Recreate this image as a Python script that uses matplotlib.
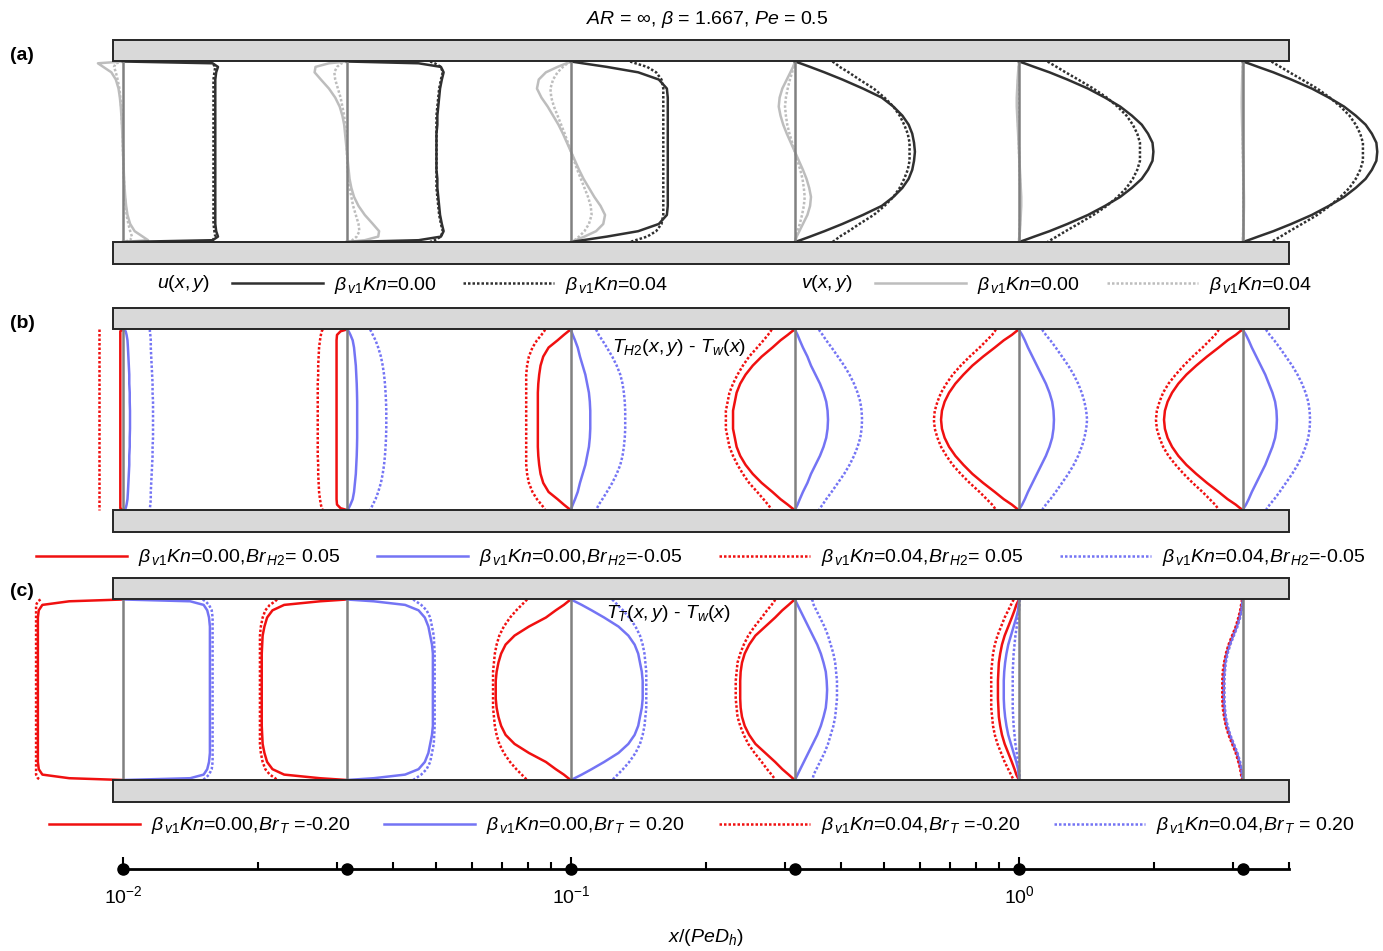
import numpy as np
import matplotlib.pyplot as plt
from matplotlib.patches import Rectangle
from matplotlib.ticker import LogLocator, NullFormatter

plt.rcParams['font.family'] = ['Liberation Sans', 'DejaVu Sans']
plt.rcParams['mathtext.fontset'] = 'custom'
plt.rcParams['mathtext.rm'] = 'Liberation Sans'
plt.rcParams['mathtext.it'] = 'Liberation Sans:italic'
plt.rcParams['mathtext.bf'] = 'Liberation Sans:bold'
plt.rcParams['font.size'] = 14

# axial stations x/(Pe Dh) where the profiles are drawn
STATIONS = [0.01, 0.0316, 0.1, 0.316, 1.0, 3.16]
TICK_VALUES = [0.01, 0.1, 1.0]
TICK_LABELS = [r'$10^{-2}$', r'$10^{-1}$', r'$10^{0}$']
WALL_X = [0.0095, 4.0]

# distance from the wall / channel height (half channel, profiles are mirrored)
D_HALF = [0.0, 0.01, 0.03, 0.06, 0.10, 0.15, 0.20, 0.25, 0.30, 0.35, 0.40, 0.45, 0.50]

# (a) streamwise velocity u, one row per station
U_KN0 = [
    [0.0, 1.00, 1.06, 1.04, 1.03, 1.03, 1.03, 1.03, 1.03, 1.03, 1.03, 1.03, 1.03],
    [0.0, 0.80, 1.05, 1.08, 1.06, 1.04, 1.03, 1.02, 1.01, 1.01, 1.00, 1.00, 1.00],
    [0.0, 0.13, 0.40, 0.75, 0.98, 1.07, 1.08, 1.08, 1.08, 1.08, 1.08, 1.08, 1.08],
    [0.0, 0.06, 0.17, 0.33, 0.53, 0.76, 0.97, 1.10, 1.20, 1.27, 1.31, 1.33, 1.34],
    [0.0, 0.06, 0.17, 0.34, 0.54, 0.77, 0.96, 1.13, 1.26, 1.37, 1.44, 1.49, 1.50],
    [0.0, 0.06, 0.17, 0.34, 0.54, 0.77, 0.96, 1.13, 1.26, 1.37, 1.44, 1.49, 1.50],
]
U_KN04 = [
    [0.97, 1.00, 1.03, 1.02, 1.01, 1.01, 1.01, 1.01, 1.01, 1.01, 1.01, 1.01, 1.01],
    [0.93, 0.98, 1.05, 1.07, 1.05, 1.03, 1.02, 1.01, 1.00, 1.00, 1.00, 1.00, 1.00],
    [0.66, 0.72, 0.85, 0.95, 1.01, 1.03, 1.03, 1.03, 1.03, 1.03, 1.03, 1.03, 1.03],
    [0.42, 0.45, 0.50, 0.60, 0.72, 0.88, 1.00, 1.10, 1.17, 1.22, 1.26, 1.28, 1.28],
    [0.32, 0.35, 0.42, 0.52, 0.66, 0.83, 0.98, 1.10, 1.20, 1.27, 1.32, 1.35, 1.35],
    [0.32, 0.35, 0.42, 0.52, 0.66, 0.83, 0.97, 1.09, 1.19, 1.26, 1.31, 1.34, 1.34],
]
# (a) transverse velocity v, top half (antisymmetric about the centreline)
V_KN0 = [
    [0.0, -0.28, -0.22, -0.13, -0.08, -0.05, -0.035, -0.025, -0.018, -0.012, -0.008, -0.004, 0.0],
    [0.0, -0.20, -0.35, -0.36, -0.29, -0.20, -0.13, -0.08, -0.05, -0.03, -0.02, -0.01, 0.0],
    [0.0, -0.05, -0.15, -0.28, -0.36, -0.38, -0.33, -0.26, -0.20, -0.14, -0.09, -0.045, 0.0],
    [0.0, -0.005, -0.02, -0.05, -0.09, -0.14, -0.17, -0.18, -0.16, -0.13, -0.09, -0.045, 0.0],
    [0.0, 0.0, -0.005, -0.01, -0.015, -0.02, -0.025, -0.025, -0.02, -0.015, -0.01, -0.005, 0.0],
    [0.0, 0.0, -0.003, -0.005, -0.008, -0.01, -0.012, -0.012, -0.01, -0.008, -0.005, -0.003, 0.0],
]
V_KN04 = [
    [0.0, -0.08, -0.10, -0.08, -0.06, -0.04, -0.03, -0.02, -0.015, -0.01, -0.006, -0.003, 0.0],
    [0.0, -0.06, -0.11, -0.14, -0.13, -0.10, -0.07, -0.05, -0.03, -0.02, -0.01, -0.005, 0.0],
    [0.0, -0.04, -0.09, -0.15, -0.20, -0.23, -0.22, -0.19, -0.15, -0.11, -0.07, -0.035, 0.0],
    [0.0, -0.005, -0.015, -0.03, -0.055, -0.08, -0.10, -0.11, -0.10, -0.085, -0.06, -0.03, 0.0],
    [0.0, 0.0, -0.003, -0.006, -0.01, -0.013, -0.015, -0.015, -0.013, -0.01, -0.007, -0.003, 0.0],
    [0.0, 0.0, -0.002, -0.003, -0.005, -0.006, -0.007, -0.007, -0.006, -0.005, -0.003, -0.002, 0.0],
]

# (b) T_H2 - T_w
TH_RED_KN0 = [
    [0.0, -0.03, -0.03, -0.03, -0.03, -0.03, -0.03, -0.03, -0.03, -0.03, -0.03, -0.03, -0.03],
    [0.0, -0.07, -0.11, -0.115, -0.115, -0.115, -0.115, -0.115, -0.115, -0.115, -0.115, -0.115, -0.115],
    [0.0, -0.03, -0.08, -0.15, -0.25, -0.31, -0.34, -0.355, -0.365, -0.37, -0.37, -0.37, -0.37],
    [0.0, -0.03, -0.08, -0.16, -0.25, -0.37, -0.47, -0.55, -0.61, -0.65, -0.67, -0.69, -0.69],
    [0.0, -0.03, -0.08, -0.17, -0.27, -0.40, -0.52, -0.62, -0.71, -0.78, -0.83, -0.86, -0.87],
    [0.0, -0.03, -0.08, -0.17, -0.27, -0.40, -0.52, -0.63, -0.72, -0.79, -0.84, -0.87, -0.88],
]
TH_BLUE_KN0 = [
    [0.0, 0.03, 0.04, 0.05, 0.055, 0.06, 0.065, 0.07, 0.07, 0.075, 0.075, 0.078, 0.078],
    [0.0, 0.02, 0.04, 0.065, 0.08, 0.09, 0.10, 0.105, 0.11, 0.113, 0.115, 0.115, 0.115],
    [0.0, 0.005, 0.02, 0.045, 0.075, 0.10, 0.13, 0.16, 0.18, 0.20, 0.21, 0.215, 0.215],
    [0.0, 0.01, 0.03, 0.055, 0.09, 0.14, 0.18, 0.23, 0.28, 0.32, 0.35, 0.365, 0.37],
    [0.0, 0.01, 0.035, 0.065, 0.10, 0.15, 0.20, 0.25, 0.30, 0.34, 0.37, 0.385, 0.39],
    [0.0, 0.01, 0.035, 0.065, 0.10, 0.15, 0.20, 0.25, 0.29, 0.33, 0.36, 0.375, 0.38],
]
TH_RED_KN04 = [
    [-0.27, -0.27, -0.27, -0.27, -0.27, -0.27, -0.27, -0.27, -0.27, -0.27, -0.27, -0.27, -0.27],
    [-0.27, -0.28, -0.29, -0.30, -0.31, -0.315, -0.32, -0.32, -0.325, -0.325, -0.325, -0.325, -0.325],
    [-0.29, -0.30, -0.33, -0.38, -0.43, -0.47, -0.49, -0.50, -0.50, -0.50, -0.50, -0.50, -0.50],
    [-0.26, -0.27, -0.30, -0.35, -0.42, -0.51, -0.58, -0.64, -0.69, -0.73, -0.75, -0.77, -0.77],
    [-0.26, -0.27, -0.30, -0.36, -0.44, -0.55, -0.65, -0.74, -0.81, -0.87, -0.91, -0.94, -0.95],
    [-0.27, -0.28, -0.31, -0.37, -0.45, -0.56, -0.66, -0.75, -0.83, -0.89, -0.93, -0.96, -0.97],
]
TH_BLUE_KN04 = [
    [0.30, 0.30, 0.305, 0.31, 0.31, 0.315, 0.32, 0.325, 0.33, 0.33, 0.335, 0.335, 0.335],
    [0.26, 0.27, 0.29, 0.32, 0.35, 0.38, 0.40, 0.415, 0.425, 0.432, 0.437, 0.44, 0.44],
    [0.28, 0.29, 0.31, 0.35, 0.40, 0.46, 0.51, 0.55, 0.575, 0.59, 0.60, 0.605, 0.605],
    [0.27, 0.28, 0.31, 0.35, 0.41, 0.48, 0.55, 0.61, 0.66, 0.70, 0.73, 0.745, 0.75],
    [0.26, 0.27, 0.30, 0.35, 0.41, 0.48, 0.55, 0.61, 0.66, 0.70, 0.73, 0.75, 0.76],
    [0.26, 0.27, 0.30, 0.35, 0.41, 0.48, 0.55, 0.61, 0.66, 0.70, 0.73, 0.745, 0.75],
]

# (c) T_T - T_w
TT_RED_KN0 = [
    [0.0, -0.60, -0.90, -0.94, -0.95, -0.95, -0.95, -0.95, -0.95, -0.95, -0.95, -0.95, -0.95],
    [0.0, -0.30, -0.70, -0.83, -0.89, -0.92, -0.94, -0.945, -0.95, -0.95, -0.95, -0.95, -0.95],
    [0.0, -0.03, -0.08, -0.17, -0.28, -0.47, -0.63, -0.73, -0.78, -0.81, -0.83, -0.84, -0.84],
    [0.0, -0.025, -0.07, -0.14, -0.22, -0.33, -0.44, -0.51, -0.56, -0.59, -0.605, -0.61, -0.61],
    [0.0, -0.01, -0.03, -0.05, -0.08, -0.12, -0.16, -0.19, -0.21, -0.225, -0.23, -0.235, -0.235],
    [0.0, -0.003, -0.01, -0.02, -0.04, -0.07, -0.11, -0.15, -0.18, -0.20, -0.21, -0.215, -0.215],
]
TT_BLUE_KN0 = [
    [0.0, 0.75, 0.90, 0.94, 0.96, 0.97, 0.97, 0.97, 0.97, 0.97, 0.97, 0.97, 0.97],
    [0.0, 0.30, 0.65, 0.80, 0.87, 0.91, 0.93, 0.95, 0.96, 0.96, 0.96, 0.96, 0.96],
    [0.0, 0.04, 0.12, 0.23, 0.37, 0.53, 0.64, 0.71, 0.75, 0.77, 0.79, 0.80, 0.80],
    [0.0, 0.01, 0.03, 0.06, 0.10, 0.15, 0.20, 0.25, 0.29, 0.32, 0.345, 0.355, 0.36],
    [0.0, 0.0, -0.005, -0.01, -0.03, -0.06, -0.09, -0.12, -0.14, -0.155, -0.165, -0.17, -0.17],
    [0.0, -0.003, -0.01, -0.02, -0.04, -0.07, -0.11, -0.15, -0.18, -0.20, -0.21, -0.22, -0.22],
]
TT_RED_KN04 = [
    [-0.92, -0.95, -0.97, -0.97, -0.97, -0.97, -0.97, -0.97, -0.97, -0.97, -0.97, -0.97, -0.97],
    [-0.78, -0.80, -0.86, -0.91, -0.94, -0.96, -0.97, -0.97, -0.97, -0.97, -0.97, -0.97, -0.97],
    [-0.49, -0.51, -0.55, -0.61, -0.68, -0.75, -0.80, -0.83, -0.85, -0.86, -0.87, -0.87, -0.87],
    [-0.22, -0.23, -0.26, -0.31, -0.37, -0.45, -0.52, -0.57, -0.61, -0.64, -0.65, -0.66, -0.66],
    [-0.06, -0.07, -0.09, -0.12, -0.16, -0.20, -0.24, -0.27, -0.29, -0.30, -0.31, -0.31, -0.31],
    [-0.01, -0.012, -0.02, -0.03, -0.05, -0.08, -0.12, -0.16, -0.19, -0.21, -0.225, -0.23, -0.23],
]
TT_BLUE_KN04 = [
    [0.89, 0.92, 0.96, 0.99, 1.00, 1.00, 1.00, 1.00, 1.00, 1.00, 1.00, 1.00, 1.00],
    [0.74, 0.77, 0.83, 0.89, 0.93, 0.95, 0.97, 0.975, 0.98, 0.98, 0.98, 0.98, 0.98],
    [0.46, 0.48, 0.52, 0.58, 0.65, 0.72, 0.77, 0.80, 0.82, 0.83, 0.84, 0.84, 0.84],
    [0.19, 0.20, 0.21, 0.24, 0.28, 0.33, 0.37, 0.40, 0.43, 0.45, 0.46, 0.47, 0.47],
    [0.01, 0.008, 0.005, 0.0, -0.01, -0.025, -0.04, -0.05, -0.06, -0.065, -0.07, -0.07, -0.07],
    [0.0, -0.002, -0.008, -0.015, -0.03, -0.06, -0.10, -0.14, -0.17, -0.19, -0.20, -0.205, -0.205],
]

LEG_A = [r'$\beta_{\,v1}Kn$=0.00', r'$\beta_{\,v1}Kn$=0.04']
LEG_B = [r'$\beta_{\,v1}Kn$=0.00,$Br_{\,H2}$= 0.05', r'$\beta_{\,v1}Kn$=0.00,$Br_{\,H2}$=-0.05',
         r'$\beta_{\,v1}Kn$=0.04,$Br_{\,H2}$= 0.05', r'$\beta_{\,v1}Kn$=0.04,$Br_{\,H2}$=-0.05']
LEG_C = [r'$\beta_{\,v1}Kn$=0.00,$Br_{\,T}$ =-0.20', r'$\beta_{\,v1}Kn$=0.00,$Br_{\,T}$ = 0.20',
         r'$\beta_{\,v1}Kn$=0.04,$Br_{\,T}$ =-0.20', r'$\beta_{\,v1}Kn$=0.04,$Br_{\,T}$ = 0.20']

RED = '#f01010'
BLUE = '#7474f4'
DARK = '#303030'
LIGHT = '#bdbdbd'
DOT = (0, (1, 0.8))
LW = 1.8

SCALE = 0.2          # decades of x per unit of profile value
WALL_T = 0.119       # wall thickness / channel height
W, H = 1383, 951


def fx(px):
    return px / W


def fy(py):
    return 1 - py / H


def full_profile(vals, odd=False):
    vals = np.asarray(vals, dtype=float)
    d = np.asarray(D_HALF)
    eta = np.concatenate([1 - d, d[::-1][1:]])
    mirror = -vals[::-1][1:] if odd else vals[::-1][1:]
    return eta, np.concatenate([vals, mirror])


def make_panel(top_px):
    ax = fig.add_axes([0, fy(top_px + 223.5), 1, 223.5 / H])
    ax.set_xlim(-2 - 123 / 448, -2 + (W - 123) / 448)
    ax.set_ylim(-WALL_T, 1 + WALL_T)
    ax.axis('off')
    x0, x1 = np.log10(WALL_X)
    for yb in (1, -WALL_T):
        ax.add_patch(Rectangle((x0, yb), x1 - x0, WALL_T, facecolor='#d9d9d9',
                               edgecolor='#262626', lw=1.4, clip_on=False, zorder=4))
    ax.vlines(np.log10(STATIONS), 0, 1, color='#808080', lw=1.8, zorder=3)
    return ax


def draw(ax, series, color, ls='-', odd=False, z=2):
    lines = []
    for st, vals in zip(STATIONS, series):
        eta, v = full_profile(vals, odd)
        ln, = ax.plot(np.log10(st) + SCALE * v, eta, color=color, ls=ls, lw=LW,
                      clip_on=False, zorder=z)
        lines.append(ln)
    return lines[0]


fig = plt.figure(figsize=(W / 100, H / 100), dpi=100)

# panel (a)
ax_a = make_panel(40)
hv0 = draw(ax_a, V_KN0, LIGHT, odd=True)
hv4 = draw(ax_a, V_KN04, LIGHT, ls=DOT, odd=True)
hu0 = draw(ax_a, U_KN0, DARK)
hu4 = draw(ax_a, U_KN04, DARK, ls=DOT)

# panel (b)
ax_b = make_panel(308)
hb = [draw(ax_b, TH_RED_KN0, RED), draw(ax_b, TH_BLUE_KN0, BLUE),
      draw(ax_b, TH_RED_KN04, RED, ls=DOT), draw(ax_b, TH_BLUE_KN04, BLUE, ls=DOT)]

# panel (c)
ax_c = make_panel(578)
hc = [draw(ax_c, TT_RED_KN0, RED), draw(ax_c, TT_BLUE_KN0, BLUE),
      draw(ax_c, TT_RED_KN04, RED, ls=DOT), draw(ax_c, TT_BLUE_KN04, BLUE, ls=DOT)]

# text
fig.text(fx(707), fy(20), r'$AR$ = $\infty$, $\beta$ = 1.667, $Pe$ = 0.5', ha='center', va='center')
for lab, ypx in zip(['(a)', '(b)', '(c)'], [55, 323, 592]):
    fig.text(fx(10), fy(ypx), lab, fontweight='bold', fontsize=14, va='center', ha='left')
fig.text(fx(612), fy(348), r'$T_{H2}(x,y)$ - $T_{w}(x)$', ha='left', va='center')
fig.text(fx(606), fy(614), r'$T_{T}(x,y)$ - $T_{w}(x)$', ha='left', va='center')

# legends, one entry per box so every column starts where it does in the source
leg_kw = dict(frameon=False, handlelength=4.7, handletextpad=0.57,
              borderpad=0, borderaxespad=0, fontsize=14, loc='center left')


def legend_row(handles, labels, xs_px, y_px):
    for h, lab, x in zip(handles, labels, xs_px):
        fig.legend([h], [lab], bbox_to_anchor=(fx(x), fy(y_px)), **leg_kw)


fig.text(fx(210), fy(284), r'$u(x,y)$', ha='right', va='center')
fig.text(fx(853), fy(284), r'$v(x,y)$', ha='right', va='center')
legend_row([hu0, hu4, hv0, hv4], LEG_A * 2, [232, 463, 875, 1107], 285)
legend_row(hb, LEG_B, [36, 377, 719, 1060], 558)
legend_row(hc, LEG_C, [49, 384, 719, 1054], 826)

# x/(Pe Dh) axis
axx = fig.add_axes([fx(123), fy(869), fx(1289 - 123), 0.001])
axx.set_xscale('log')
axx.set_xlim(0.01, 4)
axx.set_ylim(0, 1)
axx.patch.set_visible(False)
for s in ['top', 'left', 'right']:
    axx.spines[s].set_visible(False)
axx.spines['bottom'].set_linewidth(2)
axx.set_yticks([])
axx.set_xticks(TICK_VALUES)
axx.set_xticklabels(TICK_LABELS)
axx.xaxis.set_minor_locator(LogLocator(base=10, subs=np.arange(2, 10)))
axx.xaxis.set_minor_formatter(NullFormatter())
axx.tick_params(which='major', direction='in', length=9, width=1.5, pad=12, labelsize=14)
axx.tick_params(which='minor', direction='in', length=5, width=1.5)
axx.plot(STATIONS, np.zeros(len(STATIONS)), 'o', color='black', ms=8, clip_on=False, zorder=5)
axx.set_xlabel(r'$x/(PeD_h)$', labelpad=14)

fig.savefig('out.png', dpi=100)
